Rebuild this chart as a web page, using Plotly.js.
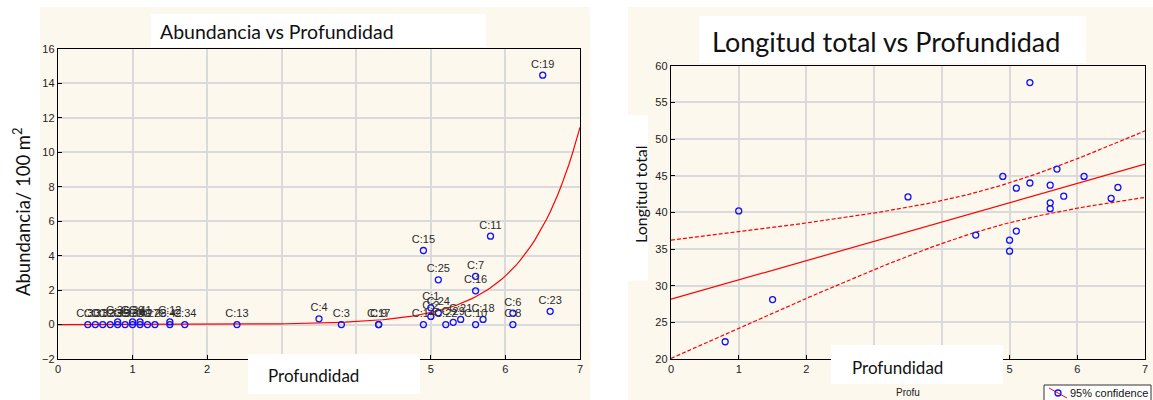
<!DOCTYPE html>
<html>
<head>
<meta charset="utf-8">
<script src="https://cdn.plot.ly/plotly-3.0.1.min.js"></script>
<style>html,body{margin:0;padding:0;background:#fff}#chart{width:1153px;height:400px}</style>
</head>
<body>
<div id="chart"></div>
<script>
// ---- Left panel: Abundancia vs Profundidad ----
const abProf = [0.4,0.5,0.6,0.7,0.8,0.8,0.9,1.0,1.0,1.1,1.1,1.2,1.3,1.5,1.5,1.7,2.4,
                3.5,3.8,4.3,4.3,4.9,4.9,5.8,5.1,5.6,5.6,5.0,5.0,5.1,5.2,5.3,5.4,5.6,5.7,6.1,6.1,6.6,6.5];
const abAbund = [0,0,0,0,0,0.15,0,0,0.15,0,0.15,0,0,0,0.15,0,0,
                 0.33,0,0,0,4.3,0,5.13,2.6,2.8,1.96,0.97,0.47,0.68,0,0.13,0.3,0,0.3,0.66,0,0.77,14.48];
const abLabels = ["C:30","C:31","C:32","C:33","C:35","C:36","C:37","C:38","C:39","C:40","C:41","C:27","C:28","C:42","C:12","C:34","C:13",
                  "C:4","C:3","C:9","C:17","C:15","C:14","C:11","C:25","C:7","C:16","C:1","C:2","C:24","C:22","C:29","C:21","C:10","C:18","C:6","C:8","C:23","C:19"];
// exponential fit parameters (y = a * exp(b * x))
const expFitA = 6.35e-4;
const expFitB = 1.4;

// ---- Right panel: Longitud total vs Profundidad ----
const ltProf  = [0.8,1.0,1.5,3.5,4.5,4.9,5.0,5.0,5.1,5.1,5.3,5.3,5.6,5.6,5.6,5.7,5.8,6.1,6.5,6.6];
const ltLong  = [22.35,40.2,28.1,42.1,36.9,44.9,36.2,34.7,43.3,37.45,57.7,44.0,43.7,41.3,40.5,45.9,42.2,44.9,41.9,43.4];
const tCrit = 2.101; // t(0.975, n-2)
const legendLabel = '95% confidence';

const xTicks = [0,1,2,3,4,5,6,7];

// ---- derived curves ----
const curveX = [];
for (let i = 0; i <= 140; i++) curveX.push(i * 0.05);
const expY = curveX.map(x => expFitA * Math.exp(expFitB * x));

const n = ltProf.length;
const mx = ltProf.reduce((a,b)=>a+b,0)/n;
const my = ltLong.reduce((a,b)=>a+b,0)/n;
let sxx=0, sxy=0;
for (let i=0;i<n;i++){ sxx+=(ltProf[i]-mx)**2; sxy+=(ltProf[i]-mx)*(ltLong[i]-my); }
const slope = sxy/sxx, icpt = my - slope*mx;
let sse=0;
for (let i=0;i<n;i++){ sse+=(ltLong[i]-(icpt+slope*ltProf[i]))**2; }
const s = Math.sqrt(sse/(n-2));
const regY = curveX.map(x => icpt + slope*x);
const half = curveX.map(x => tCrit*s*Math.sqrt(1/n + (x-mx)**2/sxx));
const upY = regY.map((v,i)=>v+half[i]);
const loY = regY.map((v,i)=>v-half[i]);

const W = 1153, H = 400;
const px = v => v / W;
const py = v => 1 - v / H;

const blue = '#1010ff';
const red = '#ff0000';
const arial = 'Arial, Liberation Sans, sans-serif';
const tickFont = {family: arial, size: 11, color: '#222'};
const titleFam = 'Lato, Carlito, Calibri, sans-serif';

const traces = [
  {x: curveX, y: expY, xaxis:'x', yaxis:'y', mode:'lines', line:{color:red, width:1.2}, showlegend:false, hoverinfo:'skip'},
  {x: abProf, y: abAbund, text: abLabels, xaxis:'x', yaxis:'y', mode:'markers+text', textposition:'top center',
   textfont:{family:arial, size:11, color:'#2a2a2a'},
   marker:{symbol:'circle-open', size:6, color:blue, line:{width:1.3, color:blue}}, showlegend:false, cliponaxis:false},
  {x: curveX, y: regY, xaxis:'x2', yaxis:'y2', mode:'lines', line:{color:red, width:1.2}, showlegend:false, hoverinfo:'skip'},
  {x: curveX, y: upY, xaxis:'x2', yaxis:'y2', mode:'lines', line:{color:red, width:1.2, dash:'4px,2px'}, showlegend:false, hoverinfo:'skip'},
  {x: curveX, y: loY, xaxis:'x2', yaxis:'y2', mode:'lines', line:{color:red, width:1.2, dash:'4px,2px'}, showlegend:false, hoverinfo:'skip'},
  {x: ltProf, y: ltLong, xaxis:'x2', yaxis:'y2', mode:'markers',
   marker:{symbol:'circle-open', size:6, color:blue, line:{width:1.3, color:blue}}, showlegend:false}
];

const axBase = {
  showline:true, linecolor:'#000', linewidth:1.2, mirror:true,
  ticks:'inside', ticklen:4, tickcolor:'#000',
  showgrid:true, gridcolor:'#dadada', gridwidth:2,
  zeroline:false, tickfont:tickFont, fixedrange:true
};

const layout = {
  width: W, height: H,
  margin:{l:0,r:0,t:0,b:0, autoexpand:false},
  paper_bgcolor:'#ffffff', plot_bgcolor:'#ffffff',
  showlegend:false,
  xaxis: Object.assign({}, axBase, {domain:[px(58), px(580)], range:[0,7], tickvals:xTicks, anchor:'y'}),
  yaxis: Object.assign({}, axBase, {domain:[py(359), py(49)], range:[-2,16], dtick:2, tick0:0, anchor:'x'}),
  xaxis2: Object.assign({}, axBase, {domain:[px(671), px(1145)], range:[0,7], tickvals:xTicks, anchor:'y2'}),
  yaxis2: Object.assign({}, axBase, {domain:[py(359), py(65.7)], range:[20,60], dtick:5, tick0:20, anchor:'x2'}),
  shapes: [
    {type:'rect', xref:'paper', yref:'paper', x0:px(40), x1:px(590), y0:py(400), y1:py(7), fillcolor:'#fdf8ee', line:{width:0}, layer:'below'},
    {type:'rect', xref:'paper', yref:'paper', x0:px(628), x1:px(1153), y0:py(400), y1:py(7), fillcolor:'#fdf8ee', line:{width:0}, layer:'below'},
    {type:'rect', xref:'paper', yref:'paper', x0:px(151), x1:px(486), y0:py(47), y1:py(14), fillcolor:'#ffffff', line:{width:0}, layer:'below'},
    {type:'rect', xref:'paper', yref:'paper', x0:px(699), x1:px(1086), y0:py(63), y1:py(16), fillcolor:'#ffffff', line:{width:0}, layer:'below'},
    {type:'rect', xref:'paper', yref:'paper', x0:px(628), x1:px(648), y0:py(281), y1:py(115), fillcolor:'#ffffff', line:{width:0}, layer:'below'},
    {type:'rect', xref:'paper', yref:'paper', x0:px(248), x1:px(420), y0:py(394), y1:py(354), fillcolor:'#ffffff', line:{width:0}, layer:'above'},
    {type:'rect', xref:'paper', yref:'paper', x0:px(831), x1:px(1003), y0:py(384), y1:py(345), fillcolor:'#ffffff', line:{width:0}, layer:'above'},
    // legend box and key
    {type:'rect', xref:'paper', yref:'paper', x0:px(1044), x1:px(1151), y0:py(403), y1:py(385), fillcolor:'#ffffff', line:{width:1, color:'#333'}, layer:'above'},
    {type:'line', xref:'paper', yref:'paper', x0:px(1049), x1:px(1067), y0:py(388), y1:py(398), line:{width:1, color:red}, layer:'above'},
    {type:'circle', xref:'paper', yref:'paper', x0:px(1055), x1:px(1061), y0:py(396), y1:py(390), fillcolor:'rgba(0,0,0,0)', line:{width:1.3, color:blue}, layer:'above'}
  ],
  annotations: [
    {text:'Abundancia vs Profundidad', xref:'paper', yref:'paper', x:px(277), y:py(31), xanchor:'center', yanchor:'middle', showarrow:false,
     font:{family:titleFam, size:19.5, color:'#111'}},
    {text:'Longitud total vs Profundidad', xref:'paper', yref:'paper', x:px(886), y:py(41), xanchor:'center', yanchor:'middle', showarrow:false,
     font:{family:titleFam, size:27, color:'#111'}},
    {text:'Abundancia/ 100 m<sup>2</sup>', xref:'paper', yref:'paper', x:px(21), y:py(212), xanchor:'center', yanchor:'middle', showarrow:false, textangle:-90,
     font:{family:titleFam, size:18.5, color:'#111'}},
    {text:'Longitud total', xref:'paper', yref:'paper', x:px(640), y:py(194), xanchor:'center', yanchor:'middle', showarrow:false, textangle:-90,
     font:{family:titleFam, size:16, color:'#111'}},
    {text:'Profundidad', xref:'paper', yref:'paper', x:px(314), y:py(375), xanchor:'center', yanchor:'middle', showarrow:false,
     font:{family:titleFam, size:17, color:'#111'}},
    {text:'Profundidad', xref:'paper', yref:'paper', x:px(897), y:py(367), xanchor:'center', yanchor:'middle', showarrow:false,
     font:{family:titleFam, size:17, color:'#111'}},
    {text:'Profu', xref:'paper', yref:'paper', x:px(908), y:py(392), xanchor:'center', yanchor:'middle', showarrow:false,
     font:{family:arial, size:10, color:'#222'}},
    {text:legendLabel, xref:'paper', yref:'paper', x:px(1068), y:py(393), xanchor:'left', yanchor:'middle', showarrow:false,
     font:{family:arial, size:11, color:'#111'}}
  ]
};

Plotly.newPlot('chart', traces, layout, {displayModeBar:false, staticPlot:true});
</script>
</body>
</html>
